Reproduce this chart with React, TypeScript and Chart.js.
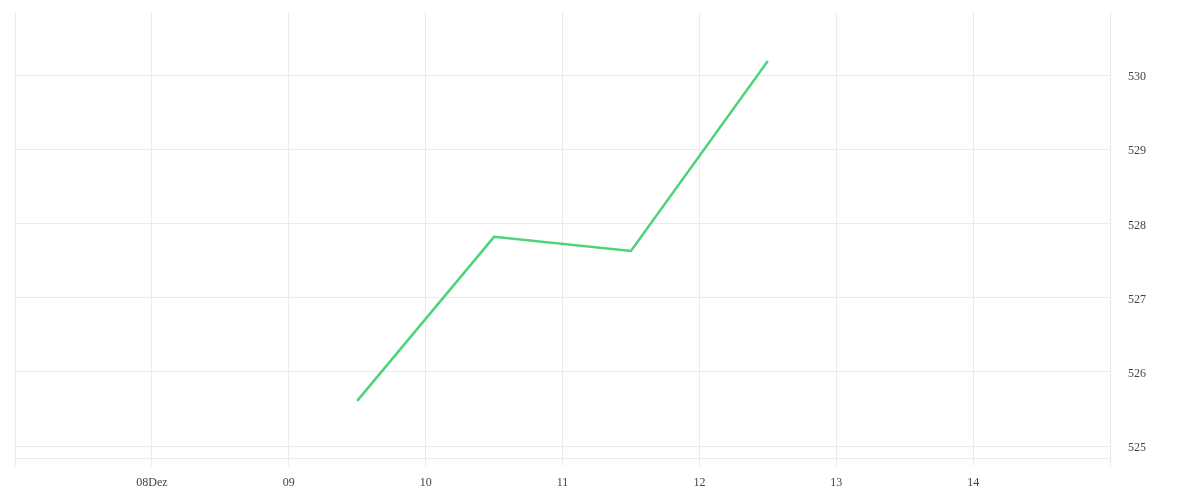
import React, { useEffect, useRef } from "react";
import { Chart, registerables } from "chart.js";

Chart.register(...registerables);

// x positions expressed as day-of-December (noon = .5)
const dayPositions = [9.5, 10.5, 11.5, 12.5];
const values = [525.61, 527.82, 527.63, 530.19];
const yTickValues = [525, 526, 527, 528, 529, 530];
const xTickDays = [7, 8, 9, 10, 11, 12, 13, 14, 15];
const xTickLabels: Record<number, string> = {
  7: "",
  8: "08Dez",
  9: "09",
  10: "10",
  11: "11",
  12: "12",
  13: "13",
  14: "14",
  15: "",
};

export default function App() {
  const ref = useRef<HTMLCanvasElement | null>(null);

  useEffect(() => {
    if (!ref.current) return;
    const gridColor = "#ebebeb";
    const font = { family: "serif", size: 12 };
    const zeroPad = (scale: any) => {
      scale.paddingLeft = 0;
      scale.paddingRight = 0;
      scale.paddingTop = 0;
      scale.paddingBottom = 0;
    };
    const chart = new Chart(ref.current, {
      type: "line",
      data: {
        datasets: [
          {
            data: dayPositions.map((d, i) => ({ x: d, y: values[i] })),
            borderColor: "#4cd47a",
            borderWidth: 2.5,
            pointRadius: 0,
            pointHoverRadius: 0,
            fill: false,
            tension: 0,
          },
        ],
      },
      options: {
        animation: false,
        responsive: true,
        maintainAspectRatio: false,
        layout: { padding: { left: 7, top: 4, right: 0, bottom: 0 } },
        plugins: { legend: { display: false }, tooltip: { enabled: false } },
        scales: {
          x: {
            type: "linear",
            min: xTickDays[0],
            max: xTickDays[xTickDays.length - 1],
            afterBuildTicks: (scale: any) => {
              scale.ticks = xTickDays.map((v) => ({ value: v }));
            },
            afterFit: (scale: any) => {
              scale.height = 34;
              zeroPad(scale);
            },
            grid: { color: gridColor, tickLength: 8, tickColor: gridColor },
            border: { color: gridColor },
            ticks: {
              font,
              color: "#444",
              padding: 10,
              maxRotation: 0,
              autoSkip: false,
              callback: (v: any) => xTickLabels[v as number] ?? "",
            },
          },
          y: {
            position: "right",
            min: 524.84,
            max: 530.85,
            afterBuildTicks: (scale: any) => {
              scale.ticks = yTickValues.map((v) => ({ value: v }));
            },
            afterFit: (scale: any) => {
              scale.width = 82;
              zeroPad(scale);
            },
            grid: { color: gridColor, drawTicks: false },
            border: { color: gridColor },
            ticks: {
              font,
              color: "#444",
              padding: 18,
              labelOffset: 2,
              callback: (v: any) => String(v),
            },
          },
        },
      },
    });
    return () => chart.destroy();
  }, []);

  return (
    <div style={{ width: "100%", height: 484, position: "relative" }}>
      <canvas ref={ref} />
    </div>
  );
}
